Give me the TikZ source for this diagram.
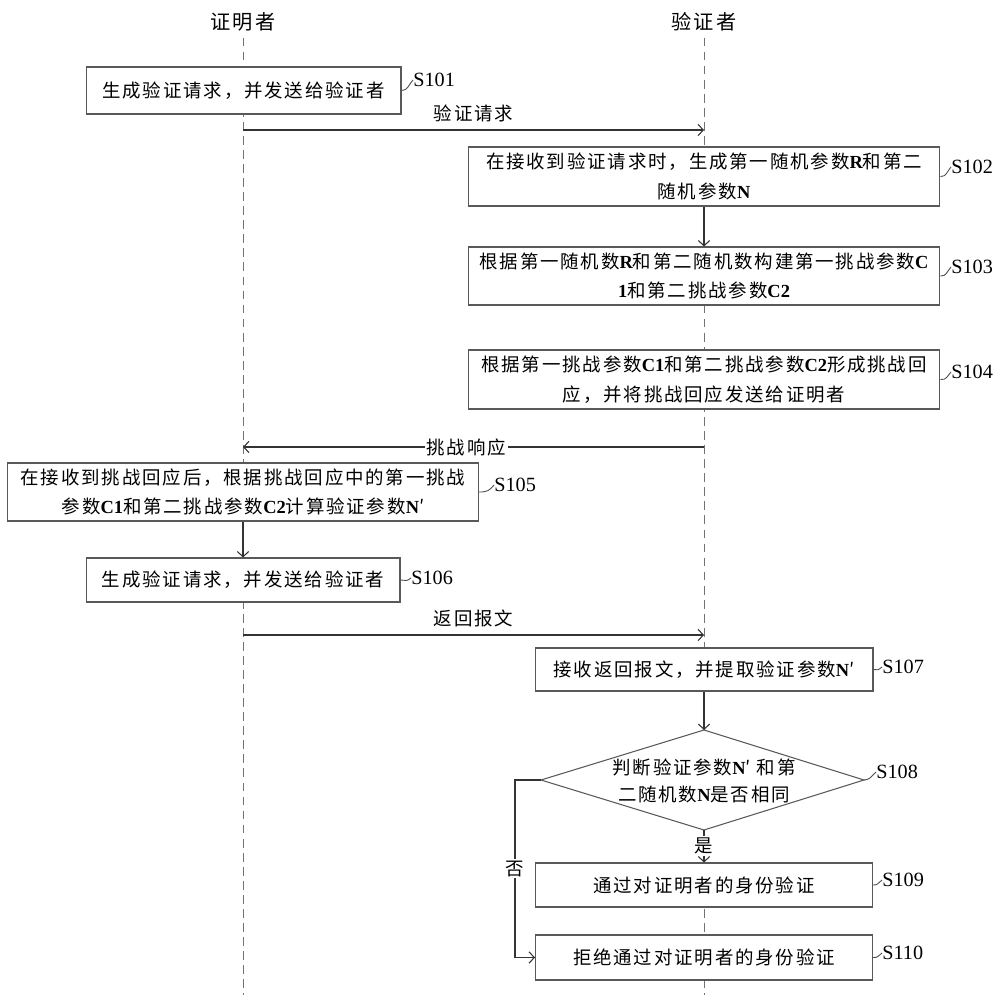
\documentclass[tikz,border=0pt]{standalone}
\usepackage{fontspec}
\setmainfont{Liberation Serif}
\newfontfamily\cjk[LetterSpace=10]{Noto Sans CJK SC}
\usetikzlibrary{arrows.meta,calc}
\newcommand\lat[1]{{\rmfamily\bfseries #1}}
\tikzset{
  box/.style={draw=black!65, line width=0.6pt, fill=white, align=center, inner sep=1pt,
    font=\cjk\fontsize{10.5}{17}\selectfont},
  boxline/.style={draw=black!65, line width=0.6pt},
  lifeline/.style={draw=black!55, dash pattern=on 5pt off 3pt, line width=0.5pt},
  msg/.style={draw=black!80, line width=0.6pt, -{Straight Barb[length=3pt,width=6.5pt]}},
  slabel/.style={font=\fontsize{11.5}{13}\selectfont, inner sep=0pt},
  tilde/.style={draw=black!70, line width=0.5pt},
  ptitle/.style={font=\cjk\fontsize{11.5}{14}\selectfont},
  msglabel/.style={font=\cjk\fontsize{10.5}{14}\selectfont, inner sep=1pt}
}
\begin{document}
\begin{tikzpicture}[x=0.02cm,y=-0.02cm]
\useasboundingbox (0,0) rectangle (1000,1000);
% titles and lifelines
\node[ptitle] (tp) at (243,22) {证明者};
\node[ptitle] (tv) at (704,22) {验证者};
\coordinate (pe) at (243,995);
\coordinate (ve) at (704,995);
\draw[lifeline] (tp.south) -- (pe);
\draw[lifeline] (tv.south) -- (ve);
% boxes
\node[box, minimum width=6.30cm, minimum height=0.94cm] (s101) at (243.5,90.5) {生成验证请求，并发送给验证者};
\node[box, minimum width=9.44cm, minimum height=1.18cm] (s102) at (704,176.5) {在接收到验证请求时，生成第一随机参数\lat{R}和第二\\随机参数\lat{N}};
\node[box, minimum width=9.44cm, minimum height=1.16cm] (s103) at (704,276) {根据第一随机数\lat{R}和第二随机数构建第一挑战参数\lat{C}\\\lat{1}和第二挑战参数\lat{C2}};
\node[box, minimum width=9.44cm, minimum height=1.18cm] (s104) at (704,379.5) {根据第一挑战参数\lat{C1}和第二挑战参数\lat{C2}形成挑战回\\应，并将挑战回应发送给证明者};
\node[box, minimum width=9.42cm, minimum height=1.16cm] (s105) at (243,492) {在接收到挑战回应后，根据挑战回应中的第一挑战\\参数\lat{C1}和第二挑战参数\lat{C2}计算验证参数\lat{N}′};
\node[box, minimum width=6.28cm, minimum height=0.88cm] (s106) at (243,580) {生成验证请求，并发送给验证者};
\node[box, minimum width=6.76cm, minimum height=0.86cm] (s107) at (704,669.5) {接收返回报文，并提取验证参数\lat{N}′};
\coordinate (dt) at (704,730);
\coordinate (dr) at (864,780);
\coordinate (db) at (704,830);
\coordinate (dl) at (541,780);
\draw[boxline, fill=white] (dt) -- (dr) -- (db) -- (dl) -- cycle;
\node[font=\cjk\fontsize{10.5}{15}\selectfont, align=center, inner sep=0pt] (d108) at (704,781) {判断验证参数\lat{N}′ 和第\\二随机数\lat{N}是否相同};
\node[box, minimum width=6.74cm, minimum height=0.88cm] (s109) at (704,885) {通过对证明者的身份验证};
\node[box, minimum width=6.74cm, minimum height=0.90cm] (s110) at (704,957.5) {拒绝通过对证明者的身份验证};
% messages
\coordinate (m1p) at (243,130);
\coordinate (m1v) at (704,130);
\draw[msg] (m1p) -- node[msglabel, above=3pt] (t1) {验证请求} (m1v);
\coordinate (m2v) at (704,447);
\coordinate (m2p) at (243,447);
\draw[msg] (m2v) -- node[msglabel, fill=white, pos=0.516] (t2) {挑战响应} (m2p);
\coordinate (m3p) at (243,635);
\coordinate (m3v) at (704,635);
\draw[msg] (m3p) -- node[msglabel, above=3pt] (t3) {返回报文} (m3v);
% flow arrows
\draw[msg] (s102.south) -- (s103.north);
\draw[msg] (s105.south) -- (s106.north);
\draw[msg] (s107.south) -- (dt);
\draw[msg] (db) -- node[msglabel, fill=white] (yes) {是} (s109.north);
\coordinate (nb) at (515,780);
\draw[msg] (dl) -- (nb) -- node[msglabel, fill=white] (no) {否} (nb |- s110.west) -- (s110.west);
% step labels
\node[slabel, anchor=west] (l101) at (413,80) {S101};
\node[slabel, anchor=west] (l102) at (951,167) {S102};
\node[slabel, anchor=west] (l103) at (951,267) {S103};
\node[slabel, anchor=west] (l104) at (951,372) {S104};
\node[slabel, anchor=west] (l105) at (494,485) {S105};
\node[slabel, anchor=west] (l106) at (411,578) {S106};
\node[slabel, anchor=west] (l107) at (882,667) {S107};
\node[slabel, anchor=west] (l108) at (876,772) {S108};
\node[slabel, anchor=west] (l109) at (882,880) {S109};
\node[slabel, anchor=west] (l110) at (882,953) {S110};
\draw[tilde] (s101.east) .. controls +(6,0) and +(-5,6) .. (l101.west);
\draw[tilde] (s102.east) .. controls +(6,0) and +(-5,6) .. (l102.west);
\draw[tilde] (s103.east) .. controls +(6,0) and +(-5,6) .. (l103.west);
\draw[tilde] (s104.east) .. controls +(6,0) and +(-5,6) .. (l104.west);
\draw[tilde] (s105.east) .. controls +(8,0) and +(-5,6) .. (l105.west);
\draw[tilde] (s106.east) .. controls +(5,0) and +(-5,4) .. (l106.west);
\draw[tilde] (s107.east) .. controls +(5,0) and +(-5,4) .. (l107.west);
\draw[tilde] (dr) .. controls +(5,0) and +(-5,5) .. (l108.west);
\draw[tilde] (s109.east) .. controls +(5,0) and +(-5,4) .. (l109.west);
\draw[tilde] (s110.east) .. controls +(5,0) and +(-5,4) .. (l110.west);
\end{tikzpicture}
\end{document}
